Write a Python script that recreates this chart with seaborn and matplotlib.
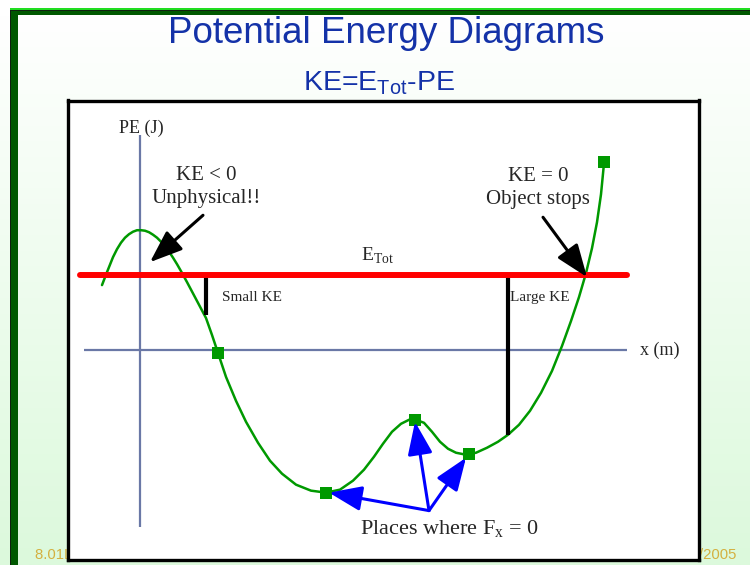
import numpy as np
import pandas as pd
import matplotlib
matplotlib.use("Agg")
import matplotlib.pyplot as plt
from matplotlib.patches import Rectangle
from matplotlib.colors import LinearSegmentedColormap
import seaborn as sns

# ---------------- data ----------------
curve_x = [-0.76, -0.66, -0.54, -0.46, -0.38, -0.30, -0.22, -0.14, -0.06, 0.02,
           0.10, 0.18, 0.26, 0.34, 0.42, 0.50, 0.58,
           0.66, 0.74, 0.82, 0.94, 1.12, 1.32, 1.44, 1.56, 1.72, 1.92, 2.12,
           2.36, 2.60, 2.84, 3.12, 3.42, 3.72, 4.00, 4.26, 4.48, 4.68,
           4.86, 5.04, 5.22, 5.38, 5.52, 5.68, 5.84, 6.00, 6.16, 6.32,
           6.52, 6.72, 6.94, 7.16, 7.36, 7.58, 7.80, 8.02, 8.24, 8.44,
           8.62, 8.78, 8.92, 9.04, 9.14, 9.22, 9.28]
curve_pe = [1.30, 1.56, 1.86, 2.02, 2.15, 2.25, 2.32, 2.37, 2.40, 2.40,
            2.39, 2.36, 2.31, 2.25, 2.17, 2.08, 1.97,
            1.85, 1.72, 1.58, 1.36, 1.02, 0.64, 0.30, -0.06, -0.54, -1.02, -1.44,
            -1.86, -2.22, -2.48, -2.70, -2.82, -2.86, -2.80, -2.62, -2.40, -2.14,
            -1.88, -1.64, -1.48, -1.40, -1.40, -1.46, -1.64, -1.84, -1.98, -2.06,
            -2.10, -2.06, -1.96, -1.84, -1.70, -1.50, -1.22, -0.86, -0.42, 0.08,
            0.58, 1.06, 1.54, 2.04, 2.56, 3.12, 3.74]

marker_x = [1.56, 3.72, 5.50, 6.58, 9.28]
marker_pe = [-0.06, -2.86, -1.40, -2.08, 3.76]

e_tot = 1.50
etot_x = [-1.20, 9.74]

axis_x_span = [-1.12, 9.74]
axis_pe_span = [-3.54, 4.30]

ke_bar_x = [1.32, 7.36]
ke_bar_pe = [0.70, -1.70]
ke_bar_labels = ["Small KE", "Large KE"]

fx_zero_x = [3.78, 5.50, 6.52]
fx_zero_pe = [-2.86, -1.44, -2.16]
fx_label_x, fx_label_pe = 5.78, -3.22

title = "Potential Energy Diagrams"
subtitle = r"KE=E$_\mathregular{Tot}$-PE"
pe_label = "PE (J)"
x_label = "x (m)"
etot_label = r"E$_\mathregular{Tot}$"
note_left = "KE < 0\nUnphysical!!"
note_right = "KE = 0\nObject stops"
note_bottom = r"Places where F$_\mathregular{x}$ = 0"
footer_left = "8.01L IAP 2005"
footer_right = "1/19/2005"

# ---------------- style ----------------
sns.set_style("white")
plt.rcParams['font.family'] = ['Liberation Serif', 'DejaVu Serif']

fig = plt.figure(figsize=(7.5, 5.65), dpi=100)

# slide background (pixel coordinates)
bg = fig.add_axes([0, 0, 1, 1])
bg.set_xlim(0, 750)
bg.set_ylim(565, 0)
bg.axis('off')
grad = np.linspace(0, 1, 256)[:, None]
cmap = LinearSegmentedColormap.from_list('g', ['#ffffff', '#dcf9dc'])
bg.imshow(grad, extent=(0, 750, 565, 15), cmap=cmap, aspect='auto', zorder=0)
bg.set_xlim(0, 750)
bg.set_ylim(565, 0)
# green slide borders
bg.add_patch(Rectangle((10, 7.5), 740, 2.5, color='#22dd22', zorder=1, lw=0))
bg.add_patch(Rectangle((10, 10), 740, 5, color='#005800', zorder=1, lw=0))
bg.add_patch(Rectangle((10, 10), 740, 1.3, color='#102010', zorder=2, lw=0))
bg.add_patch(Rectangle((10, 10), 7.5, 555, color='#005800', zorder=1, lw=0))
bg.add_patch(Rectangle((10, 10), 1.3, 555, color='#102010', zorder=2, lw=0))

bg.text(386, 43, title, ha='center', va='baseline', fontsize=26.5,
        color='#1432a8', family=['Liberation Sans', 'DejaVu Sans'])
bg.text(379, 90, subtitle, ha='center', va='baseline', fontsize=20.5,
        color='#1432a8', family=['Liberation Sans', 'DejaVu Sans'])
bg.text(35, 559, footer_left, ha='left', va='baseline', fontsize=10.7,
        color='#d4b040', family=['Liberation Sans', 'DejaVu Sans'])
bg.text(737, 559, footer_right, ha='right', va='baseline', fontsize=10.7,
        color='#d4b040', family=['Liberation Sans', 'DejaVu Sans'])

# main diagram box
ax = fig.add_axes([68 / 750, 5.5 / 565, 631 / 750, 459 / 565])
ax.set_facecolor('white')
ax.set_xlim(-1.44, 11.18)
ax.set_ylim(-4.2, 5.0)
ax.set_xticks([])
ax.set_yticks([])
for s in ax.spines.values():
    s.set_visible(True)
    s.set_color('black')
    s.set_linewidth(2.4)

axis_col = '#6a78a6'
ax.hlines(0, axis_x_span[0], axis_x_span[1], color=axis_col, lw=1.6, zorder=1)
ax.vlines(0, axis_pe_span[0], axis_pe_span[1], color=axis_col, lw=1.6, zorder=1)

df = pd.DataFrame({'x': curve_x, 'pe': curve_pe})
sns.lineplot(data=df, x='x', y='pe', sort=False, color='#009900', lw=1.8,
             ax=ax, zorder=3, solid_joinstyle='round', solid_capstyle='round')
ax.set_xlabel('')
ax.set_ylabel('')

ax.vlines(ke_bar_x, ke_bar_pe, e_tot, color='black', lw=3, zorder=3)

sns.lineplot(x=etot_x, y=[e_tot, e_tot], color='#ff0000', lw=4.3, ax=ax,
             zorder=4)

sns.scatterplot(x=marker_x, y=marker_pe, marker='s', s=75, color='#009900',
                edgecolor='none', ax=ax, zorder=5)

# texts
ax.text(0.02, 4.44, pe_label, ha='center', va='center', fontsize=13)
ax.text(10.0, 0.0, x_label, ha='left', va='center', fontsize=13)
ax.text(4.76, 1.88, etot_label, ha='center', va='center', fontsize=14)
ax.text(ke_bar_x[0] + 0.32, 1.06, ke_bar_labels[0], ha='left', va='center',
        fontsize=11)
ax.text(ke_bar_x[1] + 0.04, 1.06, ke_bar_labels[1], ha='left', va='center',
        fontsize=11)

black_arrow = dict(arrowstyle='-|>,head_length=1.0,head_width=0.38',
                   mutation_scale=20, lw=2.2, color='black',
                   shrinkA=0, shrinkB=0)
ax.text(1.32, 3.26, note_left, ha='center', va='center', fontsize=15,
        linespacing=1.3)
ax.annotate('', xy=(0.20, 1.76), xytext=(1.26, 2.70),
            arrowprops=black_arrow, zorder=6)
ax.text(7.96, 3.25, note_right, ha='center', va='center', fontsize=15,
        linespacing=1.3)
ax.annotate('', xy=(8.94, 1.46), xytext=(8.06, 2.66),
            arrowprops=black_arrow, zorder=6)

blue_arrow = dict(arrowstyle='-|>,head_length=1.0,head_width=0.38',
                  mutation_scale=20, lw=2.2, color='#0000ff',
                  shrinkA=0, shrinkB=0)
for tx, tp in zip(fx_zero_x, fx_zero_pe):
    ax.annotate('', xy=(tx, tp), xytext=(fx_label_x, fx_label_pe),
                arrowprops=blue_arrow, zorder=6)
ax.text(6.2, -3.6, note_bottom, ha='center', va='center', fontsize=16)

fig.savefig('out.png', dpi=100)
